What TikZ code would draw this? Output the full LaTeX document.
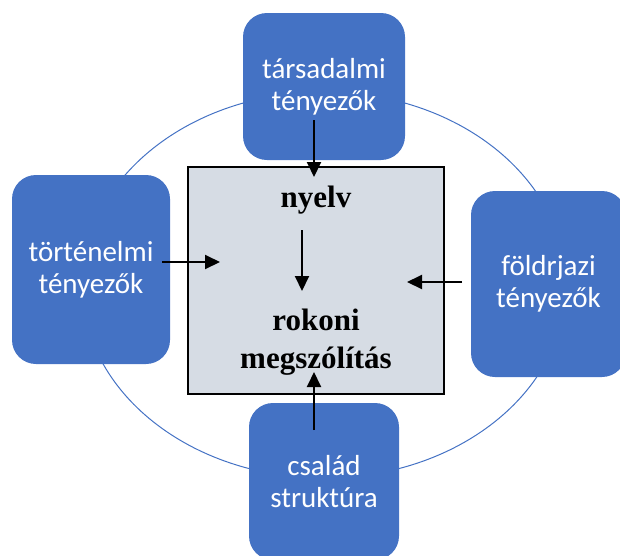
\documentclass[tikz,border=0pt]{standalone}
\usepackage{fontspec}
\setmainfont{Carlito}
\newfontfamily\centerserif{Liberation Serif}
\usetikzlibrary{arrows.meta}
\definecolor{boxblue}{HTML}{4472C4}
\definecolor{centerfill}{HTML}{D6DCE4}
\begin{document}
\begin{tikzpicture}[x=1pt,y=-1pt,
  factor/.style={draw=none, fill=boxblue, rounded corners=24pt, text=white,
    font=\fontsize{29}{32}\selectfont, align=center, inner sep=0pt},
  centerbox/.style={draw=black, line width=2pt, fill=centerfill, inner sep=0pt},
  centertext/.style={font=\centerserif\bfseries\fontsize{31}{38}\selectfont, align=center, inner sep=0pt},
  conn/.style={draw=black, line width=2pt, -{Triangle[length=15pt,width=14pt]}},
  ring/.style={draw=boxblue, line width=1pt}]
\useasboundingbox (0,0) rectangle (620,555);
% background ring
\draw[ring] (324,285) ellipse [x radius=242, y radius=193];
% factor boxes
\node[factor, minimum width=162pt, minimum height=147pt] (top) at (324,86.5) {társadalmi\\tényezők};
\node[factor, minimum width=158pt, minimum height=189pt] (left) at (91,269.5) {történelmi\\tényezők};
\node[factor, minimum width=155pt, minimum height=186pt] (right) at (548.5,284) {földrjazi\\tényezők};
\node[factor, minimum width=150pt, minimum height=157pt] (bottom) at (324,481.5) {család\\struktúra};
% centre box
\node[centerbox, minimum width=256pt, minimum height=227pt] (center) at (316,280.5) {};
\node[centertext, anchor=base] (nyelv) at (316,207) {nyelv};
\node[centertext] (rokoni) at (316,342) {rokoni\\megszólítás};
% arrow end points
\coordinate (topA) at (314,120);
\coordinate (topB) at (314,177);
\coordinate (leftA) at (162,262);
\coordinate (leftB) at (220,262);
\coordinate (rightA) at (462,282);
\coordinate (rightB) at (407,282);
\coordinate (botA) at (314,430);
\coordinate (botB) at (314,372);
\coordinate (midA) at (302,230);
\coordinate (midB) at (302,291);
% connectors
\draw[conn] (topA) -- (topB);
\draw[conn] (leftA) -- (leftB);
\draw[conn] (rightA) -- (rightB);
\draw[conn] (botA) -- (botB);
\draw[conn] (midA) -- (midB);
\end{tikzpicture}
\end{document}
